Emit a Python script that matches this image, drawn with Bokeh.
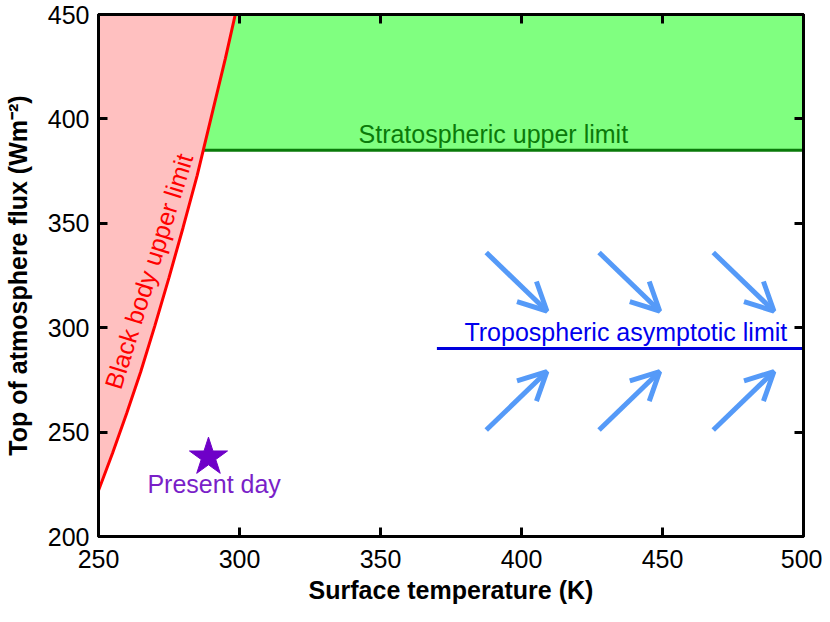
import numpy as np
from bokeh.plotting import figure
from bokeh.models import (Arrow, OpenHead, LinearAxis, Label, FixedTicker,
                          ColumnDataSource)
from bokeh.embed import file_html
from bokeh.resources import INLINE

# ---- data ----
x_ticks = [250, 300, 350, 400, 450, 500]
y_ticks = [200, 250, 300, 350, 400, 450]

# black body upper limit
bb_T = [250, 255, 260, 265, 270, 275, 280, 285, 290, 295, 300]
bb_F = [222, 240, 259, 279, 301, 324, 348, 373, 401, 429, 459]

strat_limit = 385
trop_limit = 290
trop_T = [370, 500]

present_T = [289]
present_F = [238]

arrow_x0 = [387.5, 427.5, 468.0, 387.5, 427.5, 468.0]
arrow_x1 = [409.0, 449.0, 489.5, 409.0, 449.0, 489.5]
arrow_y0 = [336, 336, 336, 251, 251, 251]
arrow_y1 = [308, 308, 308, 279, 279, 279]

FONT = "Liberation Sans"
FS = "25px"

p = figure(width=822, height=606, x_range=(250, 500), y_range=(200, 450),
           output_backend="svg", toolbar_location=None,
           min_border_left=97, min_border_right=19, min_border_top=14,
           min_border_bottom=69)
p.xgrid.visible = False
p.ygrid.visible = False
p.outline_line_color = "black"
p.outline_line_width = 3
p.background_fill_color = "white"
p.border_fill_color = "white"

# pink region left of black body curve
pink_x = bb_T + [250]
pink_y = bb_F + [bb_F[-1]]
p.patch(pink_x, pink_y, fill_color="#FFC0C0", line_color=None)

# green region above stratospheric limit
T_strat = float(np.interp(strat_limit, bb_F, bb_T))
g_x = [T_strat] + [t for t, f in zip(bb_T, bb_F) if f > strat_limit] + [500, 500]
g_y = [strat_limit] + [f for f in bb_F if f > strat_limit] + [bb_F[-1], strat_limit]
p.patch(g_x, g_y, fill_color="#80FF80", line_color=None)

p.line([T_strat, 500], [strat_limit, strat_limit], line_color="#0A7A0A", line_width=3)
p.line(bb_T, bb_F, line_color="#FF0000", line_width=3)
p.line(trop_T, [trop_limit, trop_limit], line_color="#0000DD", line_width=3)

# arrows
src = ColumnDataSource(dict(x0=arrow_x0, y0=arrow_y0, x1=arrow_x1, y1=arrow_y1))
acol = "#559AF8"
p.add_layout(Arrow(x_start="x0", y_start="y0", x_end="x1", y_end="y1", source=src,
                   line_color=acol, line_width=5,
                   end=OpenHead(size=28, line_color=acol, line_width=5)))

# present day star
p.scatter(present_T, present_F, marker="star", size=40, color="#6F00C8")

p.add_layout(Label(x=291, y=225, text="Present day",
                   text_align="center", text_baseline="middle",
                   text_color="#7A1FC8", text_font=FONT, text_font_size=FS))
p.add_layout(Label(x=390, y=393, text="Stratospheric upper limit",
                   text_align="center", text_baseline="middle",
                   text_color="#0A7A0A", text_font=FONT, text_font_size=FS))
p.add_layout(Label(x=437, y=298, text="Tropospheric asymptotic limit",
                   text_align="center", text_baseline="middle",
                   text_color="#0000EE", text_font=FONT, text_font_size=FS))
p.add_layout(Label(x=267.8, y=327, text="Black body upper limit", angle=1.27,
                   text_align="center", text_baseline="middle",
                   text_color="#FF0000", text_font=FONT, text_font_size=FS))

# axes
top = LinearAxis()
right = LinearAxis()
p.add_layout(top, "above")
p.add_layout(right, "right")

for ax in [p.below[0], top]:
    ax.ticker = FixedTicker(ticks=x_ticks)
for ax in [p.left[0], right]:
    ax.ticker = FixedTicker(ticks=y_ticks)

for ax, lab in [(p.below[0], True), (p.left[0], True), (top, False), (right, False)]:
    ax.axis_line_width = 3
    ax.axis_line_color = "black"
    ax.major_tick_in = 9
    ax.major_tick_out = 0
    ax.major_tick_line_width = 3
    ax.minor_tick_line_color = None
    ax.major_label_text_font = FONT
    ax.major_label_text_font_size = FS if lab else "0px"
    ax.major_label_text_color = "black"
    ax.major_label_standoff = 9 if lab else 0
    ax.axis_label_text_font = FONT
    ax.axis_label_text_font_size = FS
    ax.axis_label_text_font_style = "bold"
    ax.axis_label_text_color = "black"

p.below[0].major_label_standoff = 13
p.below[0].axis_label = "Surface temperature (K)"
p.below[0].axis_label_standoff = 5
p.left[0].axis_label = "Top of atmosphere flux (Wm⁻²)"
p.left[0].axis_label_standoff = 13

open("out.html", "w").write(file_html(p, INLINE))
